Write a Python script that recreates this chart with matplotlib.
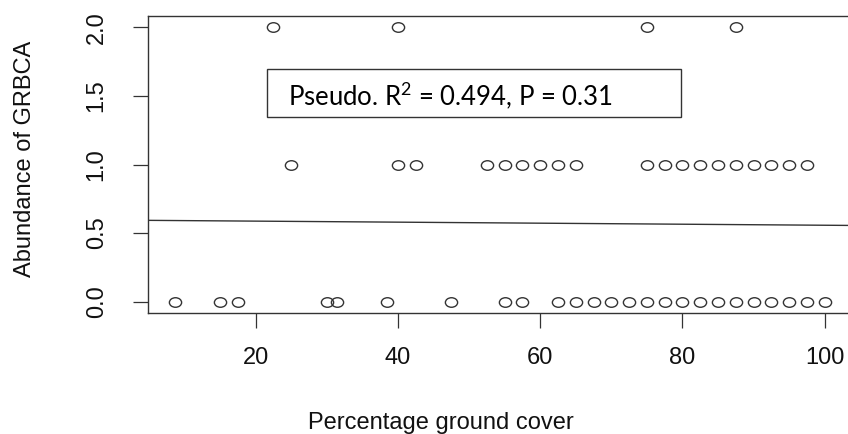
import matplotlib
matplotlib.use("Agg")
import matplotlib.pyplot as plt
from matplotlib.path import Path
from matplotlib.patches import Rectangle

# ground cover (%) for each abundance level
cover_abund0 = [8.7, 15, 17.5, 30, 31.5, 38.5, 47.5, 55, 57.5, 62.5, 65, 67.5, 70,
                72.5, 75, 77.5, 80, 82.5, 85, 87.5, 90, 92.5, 95, 97.5, 100]
cover_abund1 = [25, 40, 42.5, 52.5, 55, 57.5, 60, 62.5, 65, 75, 77.5, 80, 82.5,
                85, 87.5, 90, 92.5, 95, 97.5]
cover_abund2 = [22.5, 40, 75, 87.5]

# fitted curve
fit_x = [4.86, 103.56]
fit_y = [0.593, 0.556]

xticks = [20, 40, 60, 80, 100]
yticks = [0.0, 0.5, 1.0, 1.5, 2.0]
ytick_labels = ["0.0", "0.5", "1.0", "1.5", "2.0"]

plt.rcParams["font.family"] = ["Liberation Sans", "DejaVu Sans"]
plt.rcParams["mathtext.default"] = "regular"
ink = "#333333"

W, H = 848, 434
fig = plt.figure(figsize=(W / 100, H / 100), dpi=100)
ax = fig.add_axes([148 / W, 121.3 / H, 702 / W, 296.4 / H])

# slightly squashed open circles, like the source
circ = Path.unit_circle()
ellipse = Path(circ.vertices * [1.0, 0.78], circ.codes)

for xs, level in [(cover_abund0, 0), (cover_abund1, 1), (cover_abund2, 2)]:
    ax.plot(xs, [level] * len(xs), linestyle="none", marker=ellipse,
            markersize=8.8, markerfacecolor="none", markeredgecolor=ink,
            markeredgewidth=1.0)

ax.plot(fit_x, fit_y, color=ink, linewidth=1.0)

ax.set_xlim(4.86, 103.56)
ax.set_ylim(-0.08, 2.08)
ax.set_xticks(xticks)
ax.set_yticks(yticks)
ax.set_yticklabels(ytick_labels)

for s in ax.spines.values():
    s.set_color(ink)
    s.set_linewidth(1.0)

ax.tick_params(axis="both", direction="out", length=11, width=0.9, color=ink,
               labelsize=17, labelcolor="#111111")
ax.tick_params(axis="x", pad=14)
ax.tick_params(axis="y", pad=18)
for lbl in ax.get_yticklabels():
    lbl.set_rotation(90)
    lbl.set_va("center")

fig.text(440.5 / W, 5 / H, "Percentage ground cover", ha="center",
         va="baseline", fontsize=17, color="#111111")
fig.text(25 / W, 1 - 159 / H, "Abundance of GRBCA", rotation=90, ha="center",
         va="center", fontsize=17, color="#111111")

# annotation box
box = Rectangle((266.7 / W, 1 - 117.3 / H), (681 - 266.7) / W, 48.3 / H,
                transform=fig.transFigure, fill=False, edgecolor=ink,
                linewidth=1.0)
fig.add_artist(box)
fig.text(288 / W, 1 - 106.7 / H, "Pseudo. R$^{2}$ = 0.494, P = 0.31",
         ha="left", va="baseline", fontsize=18.5, color="black",
         family=["Lato", "DejaVu Sans"])

fig.savefig("out.png", dpi=100)
